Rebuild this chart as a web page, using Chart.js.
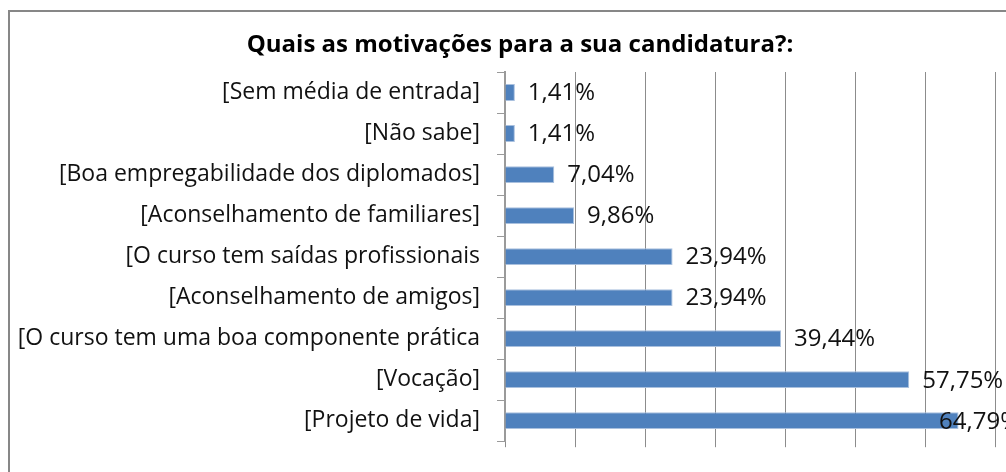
<!DOCTYPE html>
<html>
<head>
<meta charset="utf-8">
<script src="https://cdn.jsdelivr.net/npm/chart.js@4/dist/chart.umd.min.js"></script>
<style>
html,body{margin:0;padding:0;background:#fff;}
#wrap{width:1006px;height:472px;position:relative;}
</style>
</head>
<body>
<div id="wrap"><canvas id="c" width="1006" height="472"></canvas></div>
<script>
const categories = [
  "[Sem média de entrada]",
  "[Não sabe]",
  "[Boa empregabilidade dos diplomados]",
  "[Aconselhamento de familiares]",
  "[O curso tem saídas profissionais",
  "[Aconselhamento de amigos]",
  "[O curso tem uma boa componente prática",
  "[Vocação]",
  "[Projeto de vida]"
];
const values = [1.41, 1.41, 7.04, 9.86, 23.94, 23.94, 39.44, 57.75, 64.79];
const valueLabels = ["1,41%", "1,41%", "7,04%", "9,86%", "23,94%", "23,94%", "39,44%", "57,75%", "64,79%"];
const titleText = "Quais as motivações para a sua candidatura?:";

const FONT = "'Open Sans', sans-serif";

const frame = {
  id: 'frame',
  beforeDraw(chart) {
    const ctx = chart.ctx;
    ctx.save();
    ctx.fillStyle = '#fff';
    ctx.fillRect(0, 0, chart.width, chart.height);
    ctx.strokeStyle = '#878787';
    ctx.lineWidth = 2;
    ctx.strokeRect(9, 11, 1200, 800);
    ctx.fillStyle = '#000';
    ctx.font = "bold 24px " + FONT;
    ctx.textAlign = 'center';
    ctx.textBaseline = 'middle';
    ctx.fillText(titleText, 520, 45);
    ctx.restore();
  }
};

const dataLabels = {
  id: 'dataLabels',
  afterDatasetsDraw(chart) {
    const ctx = chart.ctx;
    const meta = chart.getDatasetMeta(0);
    ctx.save();
    ctx.font = "24px " + FONT;
    ctx.fillStyle = '#111';
    ctx.textBaseline = 'middle';
    ctx.textAlign = 'left';
    meta.data.forEach((bar, i) => {
      const t = valueLabels[i];
      const w = ctx.measureText(t).width;
      let x = bar.x + 13;
      const maxX = 1020 - w;
      if (x > maxX) x = maxX;
      ctx.fillText(t, x, bar.y + 1);
    });
    ctx.restore();
  }
};

new Chart(document.getElementById('c'), {
  type: 'bar',
  data: {
    labels: categories,
    datasets: [{
      data: values,
      backgroundColor: '#4F81BD',
      borderColor: '#A9C0DE',
      borderWidth: 1,
      barPercentage: 0.41,
      categoryPercentage: 1.0
    }]
  },
  options: {
    indexAxis: 'y',
    responsive: false,
    animation: false,
    devicePixelRatio: 1,
    layout: { padding: { left: 0, right: 11, top: 72, bottom: 12 } },
    plugins: {
      legend: { display: false },
      tooltip: { enabled: false },
      title: { display: false }
    },
    scales: {
      x: {
        min: 0,
        max: 70,
        ticks: { display: false, stepSize: 10 },
        grid: { color: '#8c8c8c', lineWidth: 1, drawTicks: true, tickLength: 6, tickColor: '#8c8c8c' },
        border: { display: false }
      },
      y: {
        afterFit(scale) { scale.width = 505; },
        ticks: { color: '#111', font: { family: FONT, size: 23 }, padding: 17, autoSkip: false },
        grid: { display: true, drawOnChartArea: false, drawTicks: true, tickLength: 8, color: '#9a9a9a', offset: true },
        border: { display: true, color: '#9a9a9a', width: 2 }
      }
    }
  },
  plugins: [frame, dataLabels]
});
</script>
</body>
</html>
